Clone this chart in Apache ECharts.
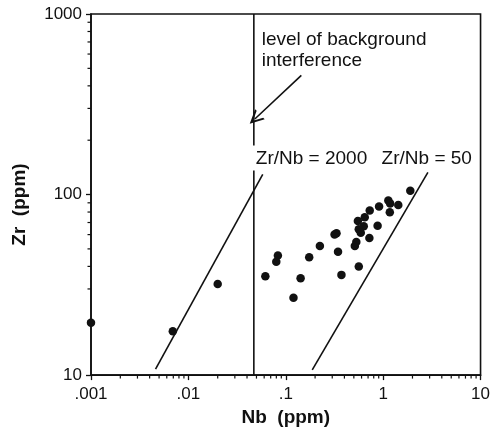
<!DOCTYPE html>
<html>
<head>
<meta charset="utf-8">
<script src="https://cdn.jsdelivr.net/npm/echarts@6/dist/echarts.min.js"></script>
<style>html,body{margin:0;padding:0;background:#fff;}#c{width:493px;height:432px;}</style>
</head>
<body>
<div id="c"></div>
<script>
// ---- data ----
const nbValues = [1.90,1.13,1.18,1.43,1.17,0.908,0.728,0.647,0.550,0.877,0.632,0.562,0.589,0.722,0.530,0.512,0.332,0.317,0.224,0.344,0.174,0.083,0.0799,0.0617,0.142,0.562,0.373,0.120,0.001,0.00692,0.020];
const zrValues = [105,92.7,89.1,87.6,79.9,85.9,81.7,74.8,71.3,67.2,66.8,64.2,61.5,57.5,54.6,51.9,61.0,60.0,51.9,48.2,44.9,45.9,42.5,35.3,34.4,39.9,35.9,26.8,19.5,17.5,32.0];
const bgLevelNb = 0.047;
const bgUpperZr = [1000, 187];
const bgLowerZr = [136, 10];
const ratio2000Nb = [0.0046, 0.058];
const ratio2000Zr = [10.8, 129.5];
const ratio50Nb = [0.187, 2.88];
const ratio50Zr = [10.7, 132.8];
const xTickValues = [0.001, 0.01, 0.1, 1, 10];
const xTickLabels = ['.001', '.01', '.1', '1', '10'];
const yTickValues = [10, 100, 1000];
const yTickLabels = ['10', '100', '1000'];
const xMinorTicks = [];
[0.001, 0.01, 0.1, 1].forEach(d => { for (let k = 2; k <= 9; k++) xMinorTicks.push(d * k); });
const yMinorTicks = [];
[10, 100].forEach(d => { for (let k = 2; k <= 9; k++) yMinorTicks.push(d * k); });

const ink = '#111111';
const FONT = '"Liberation Sans", Arial, Helvetica, sans-serif';

function lbl(vals, labels) {
  return function (v) {
    const e = Math.round(Math.log10(v));
    for (let i = 0; i < vals.length; i++) if (Math.round(Math.log10(vals[i])) === e) return labels[i];
    return '';
  };
}

const chart = echarts.init(document.getElementById('c'), null, {renderer: 'canvas'});
const option = {
  animation: false,
  backgroundColor: '#fff',
  grid: {left: 91, right: 8, top: 14, bottom: 53, show: true, borderColor: ink, borderWidth: 1.6, backgroundColor: 'transparent'},
  xAxis: {
    type: 'log', logBase: 10, min: 0.001, max: 10,
    name: 'Nb  (ppm)', nameLocation: 'middle', nameGap: 29,
    nameTextStyle: {fontFamily: FONT, fontSize: 19, fontWeight: 'bold', color: ink},
    axisLine: {show: true, lineStyle: {color: ink, width: 1.6}},
    axisTick: {show: true, inside: false, length: 5, lineStyle: {color: ink, width: 1.3}},
    axisLabel: {fontFamily: FONT, fontSize: 17, color: ink, margin: 11, formatter: lbl(xTickValues, xTickLabels)},
    splitLine: {show: false}
  },
  yAxis: {
    type: 'log', logBase: 10, min: 10, max: 1000,
    name: 'Zr  (ppm)', nameLocation: 'middle', nameGap: 62,
    nameTextStyle: {fontFamily: FONT, fontSize: 19, fontWeight: 'bold', color: ink, padding: [0, 20, 0, 0]},
    axisLine: {show: true, lineStyle: {color: ink, width: 1.6}},
    axisTick: {show: true, inside: false, length: 5, lineStyle: {color: ink, width: 1.3}},
    axisLabel: {fontFamily: FONT, fontSize: 17, color: ink, margin: 9, formatter: lbl(yTickValues, yTickLabels)},
    splitLine: {show: false}
  },
  series: [
    {
      type: 'custom', name: 'xminor', clip: false, silent: true,
      data: xMinorTicks.map(v => [v]),
      renderItem: function (params, api) {
        const p = api.coord([api.value(0), 10]);
        return {type: 'line', shape: {x1: p[0], y1: p[1], x2: p[0], y2: p[1] + 3.5}, style: {stroke: ink, lineWidth: 1.2}};
      }
    },
    {
      type: 'custom', name: 'yminor', clip: false, silent: true,
      data: yMinorTicks.map(v => [v]),
      renderItem: function (params, api) {
        const p = api.coord([0.001, api.value(0)]);
        return {type: 'line', shape: {x1: p[0] - 3.5, y1: p[1], x2: p[0], y2: p[1]}, style: {stroke: ink, lineWidth: 1.2}};
      }
    },
    {
      type: 'line', name: 'bgUpper', showSymbol: false, silent: true,
      data: bgUpperZr.map(z => [bgLevelNb, z]),
      lineStyle: {color: ink, width: 1.6},
      markLine: {
        silent: true, symbol: ['none', 'path://M0,10 L5,0 L10,10 L8.4,10 L5,3.2 L1.6,10 Z'], symbolSize: [14, 14],
        label: {show: false},
        lineStyle: {color: ink, width: 1.6, type: 'solid'},
        data: [[{coord: [0.1445, 457]}, {coord: [0.0481, 262]}]]
      }
    },
    {
      type: 'line', name: 'bgLower', showSymbol: false, silent: true,
      data: bgLowerZr.map(z => [bgLevelNb, z]),
      lineStyle: {color: ink, width: 1.6}
    },
    {
      type: 'line', name: 'ratio2000', showSymbol: false, silent: true,
      data: ratio2000Nb.map((n, i) => [n, ratio2000Zr[i]]),
      lineStyle: {color: ink, width: 1.6}
    },
    {
      type: 'line', name: 'ratio50', showSymbol: false, silent: true,
      data: ratio50Nb.map((n, i) => [n, ratio50Zr[i]]),
      lineStyle: {color: ink, width: 1.6}
    },
    {
      type: 'scatter', name: 'samples', symbol: 'circle', symbolSize: 8.5,
      itemStyle: {color: ink, opacity: 1},
      data: nbValues.map((n, i) => [n, zrValues[i]])
    },
    {
      type: 'scatter', name: 'notes', symbolSize: 0, silent: true,
      itemStyle: {opacity: 1},
      label: {show: true, position: 'right', distance: 0, align: 'left', verticalAlign: 'middle',
        fontFamily: FONT, fontSize: 19, color: ink, lineHeight: 21,
        formatter: p => p.data.t},
      data: [
        {value: [0.0566, 627], t: 'level of background\ninterference'},
        {value: [0.0492, 157.5], t: 'Zr/Nb = 2000'},
        {value: [0.964, 157.5], t: 'Zr/Nb = 50'}
      ]
    }
  ]
};
chart.setOption(option);
</script>
</body>
</html>
